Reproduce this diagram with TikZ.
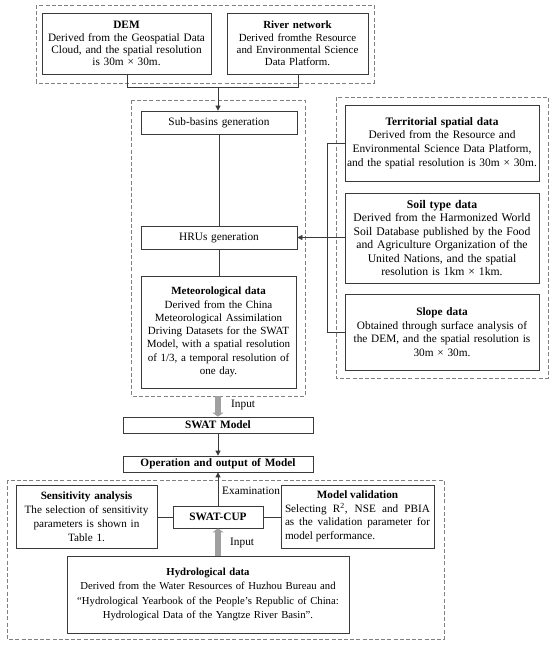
\documentclass[tikz,border=0pt]{standalone}
\usepackage{fontspec}
\setmainfont{Liberation Serif}
\usetikzlibrary{arrows.meta}
\definecolor{boxline}{HTML}{3A3A3A}
\definecolor{dashline}{HTML}{808080}
\definecolor{thickarrow}{HTML}{A0A0A0}
\newcommand\myfsz[2]{\fontsize{#1}{#2}\selectfont}
\tikzset{
  databox/.style={draw=boxline, line width=0.7pt, align=center, inner sep=0pt,
    font=\myfsz{11.3}{12.4}},
  groupbox/.style={draw=dashline, line width=0.7pt, dash pattern=on 4pt off 2.2pt},
  conn/.style={draw=boxline, line width=0.6pt},
  connarrow/.style={conn, -{Triangle[length=5pt,width=5pt]}},
  bigarrow/.style={draw=thickarrow, line width=5.5pt, -{Triangle[length=4pt,width=11pt]}},
  lbl/.style={font=\myfsz{11.3}{12.4}, inner sep=0pt, anchor=west}
}
\begin{document}
\begin{tikzpicture}[x=1pt,y=-1pt]
\useasboundingbox (0,0) rectangle (550,645);
% group frames
\draw[groupbox] (36,5) rectangle (374,83);
\draw[groupbox] (131,100) rectangle (305,396);
\draw[groupbox] (336,97) rectangle (548,378);
\draw[groupbox] (7,480) rectangle (444,639);
% top boxes
\node[databox, font=\myfsz{11.3}{12.2}, minimum width=169pt, minimum height=61pt, text width=165pt] (dem) at (126.5,43.5)
  {\textbf{DEM}\\Derived from the Geospatial Data\\Cloud, and the spatial resolution\\is 30m × 30m.};
\node[databox, font=\myfsz{10.9}{12.2}, minimum width=141pt, minimum height=61pt, text width=138pt] (river) at (297.5,43.5)
  {\textbf{River network}\\Derived fromthe Resource\\and Environmental Science\\Data Platform.};
% left column
\node[databox, minimum width=156pt, minimum height=23pt, text width=150pt] (sub) at (219,122.5) {Sub-basins generation};
\node[databox, minimum width=156pt, minimum height=23pt, text width=150pt] (hru) at (219,237.5) {HRUs generation};
\node[databox, font=\myfsz{11}{13.3}, minimum width=155pt, minimum height=112pt, text width=152pt] (met) at (218.5,332)
  {\textbf{Meteorological data}\\Derived from the China\\Meteorological Assimilation\\Driving Datasets for the SWAT\\Model, with a spatial resolution\\of 1/3, a temporal resolution of\\one day.};
% right column
\node[databox, font=\myfsz{11.4}{13.8}, minimum width=194pt, minimum height=76pt, text width=191pt] (terr) at (442,143)
  {\textbf{Territorial spatial data}\\Derived from the Resource and\\Environmental Science Data Platform,\\and the spatial resolution is 30m × 30m.};
\node[databox, font=\myfsz{11.7}{13.4}, minimum width=194pt, minimum height=90pt, text width=191pt] (soil) at (442,238)
  {\textbf{Soil type data}\\Derived from the Harmonized World\\Soil Database published by the Food\\and Agriculture Organization of the\\United Nations, and the spatial\\resolution is 1km × 1km.};
\node[databox, font=\myfsz{11.3}{13.6}, minimum width=194pt, minimum height=76pt, text width=191pt] (slope) at (442,332)
  {\textbf{Slope data}\\Obtained through surface analysis of\\the DEM, and the spatial resolution is\\30m × 30m.};
% model
\node[databox, minimum width=190pt, minimum height=16pt, text width=184pt] (swat) at (218,425) {\textbf{SWAT Model}};
\node[databox, minimum width=190pt, minimum height=16pt, text width=184pt] (oper) at (218,464) {\textbf{Operation and output of Model}};
% bottom group
\node[databox, font=\myfsz{11.2}{13.9}, minimum width=141pt, minimum height=63pt, text width=138pt] (sens) at (86.5,516.5)
  {\textbf{Sensitivity analysis}\\The selection of sensitivity\\parameters is shown in\\Table 1.};
\node[databox, minimum width=90pt, minimum height=22pt, text width=86pt] (cup) at (218,517) {\textbf{SWAT-CUP}};
\node[databox, font=\myfsz{11.2}{13.6}, minimum width=153pt, minimum height=63pt, text width=145pt, align=justify] (valid) at (357.5,516.5)
  {{\centering\textbf{Model validation}\par}Selecting R\textsuperscript{2}, NSE and PBIA as the validation parameter for model performance.};
\node[databox, font=\myfsz{10.7}{14.2}, minimum width=282pt, minimum height=77pt, text width=278pt] (hydro) at (208,594.5)
  {\textbf{Hydrological data}\\Derived from the Water Resources of Huzhou Bureau and\\“Hydrological Yearbook of the People's Republic of China:\\Hydrological Data of the Yangtze River Basin”.};
% connectors top
\coordinate (demb) at (127,87);
\coordinate (rivb) at (298,87);
\coordinate (junc) at (218,87);
\draw[conn] (dem.south -| demb) -- (demb) -- (rivb) -- (river.south -| rivb);
\draw[connarrow] (junc) -- (sub.north -| junc);
\draw[conn] (sub) -- (hru);
\draw[conn] (hru) -- (met.north -| hru);
% bracket on the right
\coordinate (brk) at (327,0);
\draw[conn] (terr.west) -- (terr.west -| brk) -- (slope.west -| brk) -- (slope.west);
\draw[connarrow] (soil.west |- hru.east) -- (hru.east);
% input to SWAT
\coordinate (grpbot) at (218,396);
\draw[bigarrow] (grpbot) -- (swat.north -| grpbot);
\node[lbl] (in1) at (231,405) {Input};
\draw[connarrow] (swat) -- (oper);
% bottom connectors
\draw[connarrow] (cup) -- (oper);
\node[lbl] (exam) at (222,491) {Examination};
\draw[conn] (sens.east |- cup.west) -- (cup.west);
\draw[conn] (cup.east) -- (valid.west |- cup.east);
\draw[bigarrow] (hydro.north -| cup.south) -- (cup.south);
\node[lbl] (in2) at (230,543) {Input};
\end{tikzpicture}
\end{document}
